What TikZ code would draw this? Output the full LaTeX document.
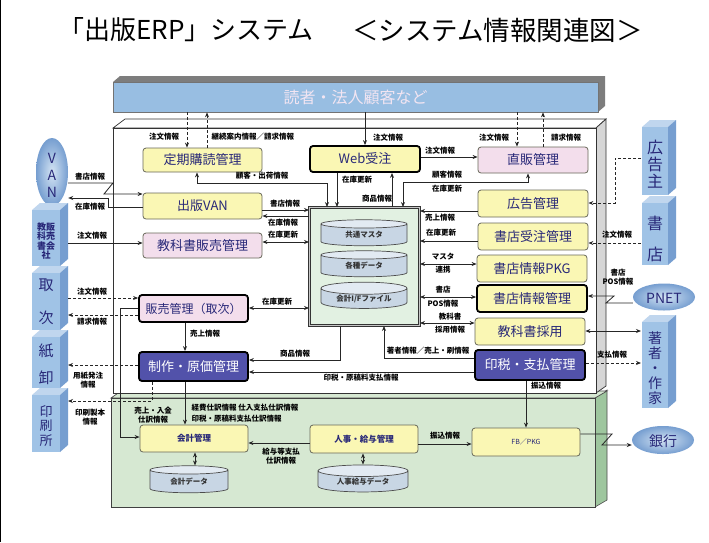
\documentclass[tikz,border=0pt]{standalone}
\usepackage{fontspec}
\setmainfont{Noto Sans CJK JP}
\usetikzlibrary{arrows.meta,shapes.geometric}
\definecolor{ylw}{RGB}{250,247,180}
\definecolor{ylwedge}{RGB}{105,105,90}
\definecolor{pnk}{RGB}{243,222,236}
\definecolor{vio}{RGB}{82,82,170}
\definecolor{navy}{RGB}{40,40,120}
\definecolor{barblue}{RGB}{152,190,226}
\definecolor{barshadow}{RGB}{125,125,125}
\definecolor{entfront}{RGB}{160,195,230}
\definecolor{entside}{RGB}{118,158,208}
\definecolor{enttop}{RGB}{192,214,238}
\definecolor{grnfront}{RGB}{214,232,210}
\definecolor{grnside}{RGB}{158,198,158}
\definecolor{dbfill}{RGB}{226,241,226}
\definecolor{cylfill}{RGB}{200,214,228}
\definecolor{cyltop}{RGB}{226,234,242}
\definecolor{sidegray}{RGB}{214,214,214}
\newcommand{\entbox}[4]{%
  \fill[enttop] (#1,#2) -- (#1+8,#2-7) -- (#3+8,#2-7) -- (#3,#2) -- cycle;
  \fill[entside] (#3,#2) -- (#3+8,#2-7) -- (#3+8,#4-7) -- (#3,#4) -- cycle;
  \fill[entfront] (#1,#2) rectangle (#3,#4);}
\tikzset{
  box/.style={rounded corners=3pt, draw=ylwedge, line width=0.8pt, text=navy,
    font=\fontsize{13}{14}\selectfont, inner sep=1pt},
  ybox/.style={box, fill=ylw},
  pbox/.style={box, fill=pnk},
  vbox/.style={box, fill=vio, text=white, draw=black, line width=1.8pt},
  heavy/.style={draw=black, line width=1.8pt},
  lbl/.style={font=\fontsize{7.5}{9}\selectfont\bfseries, inner sep=0.5pt, align=center, text=black},
  arr/.style={-{Stealth[length=5pt,width=4pt]}, line width=0.8pt, draw=black!85},
  darr/.style={{Stealth[length=5pt,width=4pt]}-{Stealth[length=5pt,width=4pt]}, line width=0.8pt, draw=black!85},
  dsh/.style={dash pattern=on 3pt off 2pt},
  cyl/.style={cylinder, shape border rotate=90, aspect=0.22, draw=black!70, line width=0.7pt,
    cylinder uses custom fill, cylinder body fill=cylfill, cylinder end fill=cyltop,
    font=\fontsize{7.5}{8}\selectfont\bfseries, text=black!80, inner sep=0pt},
  anch/.style={inner sep=0pt, outer sep=0pt},
  enttxt/.style={text=navy, align=center, inner sep=0pt},
  disc/.style={ellipse, shade, inner color=white!55!entfront, outer color=entside, inner sep=0pt},
}
\begin{document}
\begin{tikzpicture}[x=1pt,y=-1pt]
\useasboundingbox (0,0) rectangle (709,542);
\fill[white] (0,0) rectangle (709,542);
\draw[black, line width=1pt] (0.5,0) -- (0.5,542);

% title
\node[anchor=west, font=\fontsize{26}{26}\selectfont, inner sep=0] (t1) at (58,30) {「出版ERP」システム};
\node[anchor=west, font=\fontsize{26.5}{26}\selectfont, inner sep=0] (t2) at (352,30) {＜システム情報関連図＞};

% green bottom area
\fill[grnside] (595,398) -- (607,390) -- (607,500) -- (595,507) -- cycle;
\draw[black!70, line width=0.6pt] (595,398) -- (607,390) -- (607,500) -- (595,507);
\draw[black!70, line width=0.7pt, fill=grnfront] (111,398) -- (121,391) -- (607,391) -- (595,398) -- cycle;
\draw[black!75, line width=0.8pt, fill=grnfront] (111,398) rectangle (595,507);

% white main box
\draw[black!80, line width=0.7pt, fill=white] (113,128) -- (125,119) -- (606,119) -- (596,128) -- cycle;
\draw[black!80, line width=0.7pt, fill=sidegray] (596,128) -- (606,119) -- (606,386) -- (596,393) -- cycle;
\draw[black!80, line width=0.8pt, fill=white] (113,128) rectangle (596,393);

% top bar
\fill[barshadow] (113,82) -- (120,76) -- (605,76) -- (605,106) -- (598,112) -- (598,82) -- cycle;
\node[fill=barblue, draw=black!55, line width=0.6pt, minimum width=485pt, minimum height=30pt, inner sep=0,
  text=white!90!violet, font=\fontsize{16}{16}\selectfont] (topbar) at (355.5,97) {読者・法人顧客など};

% left entities
\node[disc, minimum width=32pt, minimum height=68pt] (van) at (52,172) {};
\node[enttxt, font=\fontsize{14}{17}\selectfont] (vant) at (52,175) {V\\A\\N};
\entbox{32}{210}{60}{266}
\node[anch, minimum width=36pt, minimum height=56pt] (kyohansha) at (50,238) {};
\node[enttxt, font=\fontsize{9}{9.6}\selectfont\bfseries] (kyohanshat) at (46,241) {教販\\科売\\書会\\社};
\entbox{32}{273}{60}{330}
\node[anch, minimum width=36pt, minimum height=57pt] (tori) at (50,301.5) {};
\node[enttxt, font=\fontsize{15}{33}\selectfont] (torit) at (46,302) {取\\次};
\entbox{32}{337}{60}{388}
\node[anch, minimum width=36pt, minimum height=51pt] (kami) at (50,362.5) {};
\node[enttxt, font=\fontsize{15}{27}\selectfont] (kamit) at (46,364) {紙\\卸};
\entbox{32}{395}{60}{452}
\node[anch, minimum width=36pt, minimum height=57pt] (insatsu) at (50,423.5) {};
\node[enttxt, font=\fontsize{13}{14.5}\selectfont] (insatsut) at (46,426) {印\\刷\\所};

% right entities
\entbox{642}{127}{668}{195}
\node[anch, minimum width=36pt, minimum height=68pt] (koukokunushi) at (659,161) {};
\node[enttxt, font=\fontsize{16}{17}\selectfont] (koukokunushit) at (655,164) {広\\告\\主};
\entbox{642}{203}{668}{265}
\node[anch, minimum width=36pt, minimum height=62pt] (shoten) at (659,234) {};
\node[enttxt, font=\fontsize{16}{31}\selectfont] (shotent) at (655,239) {書\\店};
\node[disc, minimum width=62pt, minimum height=27pt] (pnet) at (664,297) {};
\node[enttxt, font=\fontsize{14}{14}\selectfont] (pnett) at (664,298) {PNET};
\entbox{642}{322}{668}{408}
\node[anch, minimum width=36pt, minimum height=86pt] (chosha) at (659,365) {};
\node[enttxt, font=\fontsize{14}{15}\selectfont] (choshat) at (655,368) {著\\者\\・\\作\\家};
\node[disc, minimum width=62pt, minimum height=28pt] (ginko) at (663,440) {};
\node[enttxt, font=\fontsize{14}{14}\selectfont] (ginkot) at (663,441) {銀行};

% left column boxes
\node[ybox, minimum width=119pt, minimum height=24pt] (teiki) at (202.5,160) {定期購読管理};
\node[ybox, minimum width=119pt, minimum height=26pt] (svan) at (202.5,206) {出版VAN};
\node[pbox, minimum width=119pt, minimum height=25pt] (kyohan) at (202.5,245.5) {教科書販売管理};
\node[pbox, heavy, minimum width=109pt, minimum height=27pt, font=\fontsize{12}{13}\selectfont] (hanbai) at (193.5,308.5) {販売管理（取次）};
\node[vbox, minimum width=109pt, minimum height=29pt] (seisaku) at (193.5,366.5) {制作・原価管理};

% center
\node[ybox, heavy, minimum width=110pt, minimum height=26pt] (web) at (365,159) {Web受注};
\node[draw=black!80, line width=0.9pt, double=gray!45, double distance=1.2pt, fill=dbfill,
  minimum width=110pt, minimum height=118pt, inner sep=0] (db) at (364.5,266.5) {};
\node[cyl, minimum width=86pt, minimum height=26pt] (cyla) at (364,235) {共通マスタ};
\node[cyl, minimum width=86pt, minimum height=26pt] (cylb) at (364,266) {各種データ};
\node[cyl, minimum width=86pt, minimum height=26pt] (cylc) at (364,298.5) {会計I/Fファイル};

% right column boxes
\node[pbox, minimum width=110pt, minimum height=26pt] (chokuhan) at (533,160) {直販管理};
\node[ybox, minimum width=110pt, minimum height=27pt] (kokoku) at (533,203.5) {広告管理};
\node[ybox, minimum width=110pt, minimum height=27pt] (shjuchu) at (533,236.5) {書店受注管理};
\node[ybox, minimum width=110pt, minimum height=27pt] (pkg) at (532,268.5) {書店情報PKG};
\node[ybox, heavy, minimum width=110pt, minimum height=27pt] (shjoho) at (532,298.5) {書店情報管理};
\node[ybox, minimum width=110pt, minimum height=27pt] (kyosaiyo) at (530,331.5) {教科書採用};
\node[vbox, minimum width=110pt, minimum height=30pt] (inzei) at (530,365) {印税・支払管理};

% bottom boxes
\node[ybox, minimum width=108pt, minimum height=27pt, font=\fontsize{8.5}{9}\selectfont\bfseries] (kaikei) at (194,438.5) {会計管理};
\node[cyl, minimum width=78pt, minimum height=27pt] (kdata) at (189,481.5) {会計データ};
\node[ybox, minimum width=108pt, minimum height=28pt, font=\fontsize{8.5}{9}\selectfont\bfseries] (jinji) at (364,439) {人事・給与管理};
\node[cyl, minimum width=90pt, minimum height=27pt] (jdata) at (363,481.5) {人事給与データ};
\node[ybox, minimum width=108pt, minimum height=28pt, font=\fontsize{7}{8}\selectfont] (fb) at (526,442) {FB／PKG};

% ---------- connectors ----------
\draw[arr,dsh] (topbar.south -| 187,0) -- (teiki.north -| 187,0);
\draw[arr,dsh] (teiki.north -| 207,0) -- (topbar.south -| 207,0);
\draw[arr] (topbar.south -| web.north) -- (web.north);
\draw[arr,dsh] (topbar.south -| 517,0) -- (chokuhan.north -| 517,0);
\draw[arr,dsh] (chokuhan.north -| 543,0) -- (topbar.south -| 543,0);
\draw[arr] (web.east |- 0,157) -- (chokuhan.west |- 0,157);
\draw[darr] (teiki.south -| 197,0) |- (327,183) -- (db.north -| 327,0);
\draw[arr] (web.south -| 337,0) -- (db.north -| 337,0);
\draw[arr] (db.north -| 392,0) -- (web.south -| 392,0);
\draw[darr] (chokuhan.south -| 528,0) |- (403,182) -- (db.north -| 403,0);
\draw[arr] (van.east |- 0,183) -- (113,183) -- (104,194) -- (svan.west |- 0,194);
\draw[arr] (svan.west |- 0,207) -- (108,207) -- (108,198) -- (van.east |- 0,198);
\draw[arr] (svan.east |- 0,210) -- (db.west |- 0,210);
\draw[arr] (db.west |- 0,216) -- (svan.east |- 0,216);
\draw[darr] (kyohan.east |- 0,242) -- (db.west |- 0,242);
\draw[arr] (kyohansha.east |- 0,243) -- (kyohan.west |- 0,243);
\draw[arr,dsh] (tori.east |- 0,298) -- (hanbai.west |- 0,298);
\draw[arr,dsh] (hanbai.west |- 0,315) -- (tori.east |- 0,315);
\draw[darr] (hanbai.east |- 0,308) -- (db.west |- 0,308);
\draw[arr] (hanbai.south -| 185,0) -- (seisaku.north -| 185,0);
\draw[arr,dsh] (seisaku.west |- 0,365) -- (kami.east |- 0,365);
\draw[arr,dsh] (seisaku.south -| 152,0) |- (insatsu.east |- 0,401);
\draw[arr] (db.south -| 340,0) |- (seisaku.east |- 0,360);
\draw[arr] (inzei.west |- 0,372) -- (seisaku.east |- 0,372);
\draw[arr] (inzei.west |- 0,358) -| (db.south -| 384,0);
\draw[arr] (kokoku.west |- 0,211) -- (db.east |- 0,211);
\draw[arr] (shjuchu.west |- 0,241) -- (db.east |- 0,241);
\draw[darr] (db.east |- 0,264) -- (pkg.west |- 0,264);
\draw[darr] (db.east |- 0,297) -- (shjoho.west |- 0,297);
\draw[darr] (db.east |- 0,323) -- (kyosaiyo.west |- 0,323);
\draw[arr,dsh] (koukokunushi.west |- 0,158) -| (615,203) -- (kokoku.east |- 0,203);
\draw[arr,dsh] (shoten.west |- 0,243) -- (shjuchu.east |- 0,243);
\draw[arr] (pnet.west |- 0,303) -- (606,303) -- (614,296) -- (shjoho.east |- 0,296);
\draw[darr] (kyosaiyo.east |- 0,331) -- (chosha.west |- 0,331);
\draw[arr,dsh] (inzei.east |- 0,363) -- (chosha.west |- 0,363);
\draw[arr] (inzei.south -| 526,0) -- (fb.north -| 526,0);
\draw[arr] (fb.east |- 0,434) -- (612,434) -- (602,445) -- (ginko.west |- 0,445);
\draw[arr] (jinji.west |- 0,443) -- (kaikei.east |- 0,443);
\draw[arr] (jinji.east |- 0,444) -- (fb.west |- 0,444);
\draw[darr] (kaikei.south -| 195,0) -- (kdata.north -| 195,0);
\draw[darr] (jinji.south -| 363,0) -- (jdata.north -| 363,0);
\draw[arr] (hanbai.west) -| (120,437) -- (kaikei.west |- 0,437);
\draw[arr] (seisaku.south -| 185,0) -- (kaikei.north -| 185,0);

% ---------- labels ----------
\node[lbl] (l1) at (164,137) {注文情報};
\node[lbl, anchor=west] (l2) at (211,137) {継続案内情報／請求情報};
\node[lbl] (l3) at (388,138) {注文情報};
\node[lbl] (l4) at (494,138) {注文情報};
\node[lbl] (l5) at (566,138) {請求情報};
\node[lbl] (l6) at (440,151) {注文情報};
\node[lbl] (l7) at (262,176) {顧客・出荷情報};
\node[lbl] (l8) at (357,180) {在庫更新};
\node[lbl] (l9) at (377,199) {商品情報};
\node[lbl] (l10) at (447,175) {顧客情報};
\node[lbl] (l11) at (447,189) {在庫更新};
\node[lbl] (l12) at (90,177) {書店情報};
\node[lbl] (l13) at (90,207) {在庫情報};
\node[lbl] (l14) at (285,204) {書店情報};
\node[lbl] (l15) at (283,223) {在庫情報};
\node[lbl] (l16) at (283,235) {在庫更新};
\node[lbl] (l17) at (92,236) {注文情報};
\node[lbl] (l18) at (92,292) {注文情報};
\node[lbl] (l19) at (92,322) {請求情報};
\node[lbl] (l20) at (277,302) {在庫更新};
\node[lbl] (l21) at (205,334) {売上情報};
\node[lbl] (l22) at (88,380) {用紙発注\\情報};
\node[lbl] (l23) at (90,417) {印刷製本\\情報};
\node[lbl] (l24) at (295,354) {商品情報};
\node[lbl] (l25) at (361,378) {印税・原稿料支払情報};
\node[lbl] (l26) at (428,351) {著者情報／売上・刷情報};
\node[lbl] (l27) at (440,218) {売上情報};
\node[lbl] (l28) at (441,233) {在庫更新};
\node[lbl] (l29) at (443,257) {マスタ};
\node[lbl] (l30) at (443,270) {連携};
\node[lbl] (l31) at (443,290) {書店};
\node[lbl] (l32) at (443,304) {POS情報};
\node[lbl] (l33) at (450,317) {教科書};
\node[lbl] (l34) at (450,330) {採用情報};
\node[lbl] (l35) at (617,235) {注文情報};
\node[lbl] (l36) at (618,277) {書店\\POS情報};
\node[lbl] (l37) at (612,355) {支払情報};
\node[lbl] (l38) at (546,386) {振込情報};
\node[lbl] (l39) at (153,415) {売上・入金\\仕訳情報};
\node[lbl, anchor=west] (l40) at (191,408) {経費仕訳情報\ 仕入支払仕訳情報};
\node[lbl, anchor=west] (l41) at (191,419) {印税・原稿料支払仕訳情報};
\node[lbl] (l42) at (281,456) {給与等支払\\仕訳情報};
\node[lbl] (l43) at (445,436) {振込情報};
\end{tikzpicture}
\end{document}
